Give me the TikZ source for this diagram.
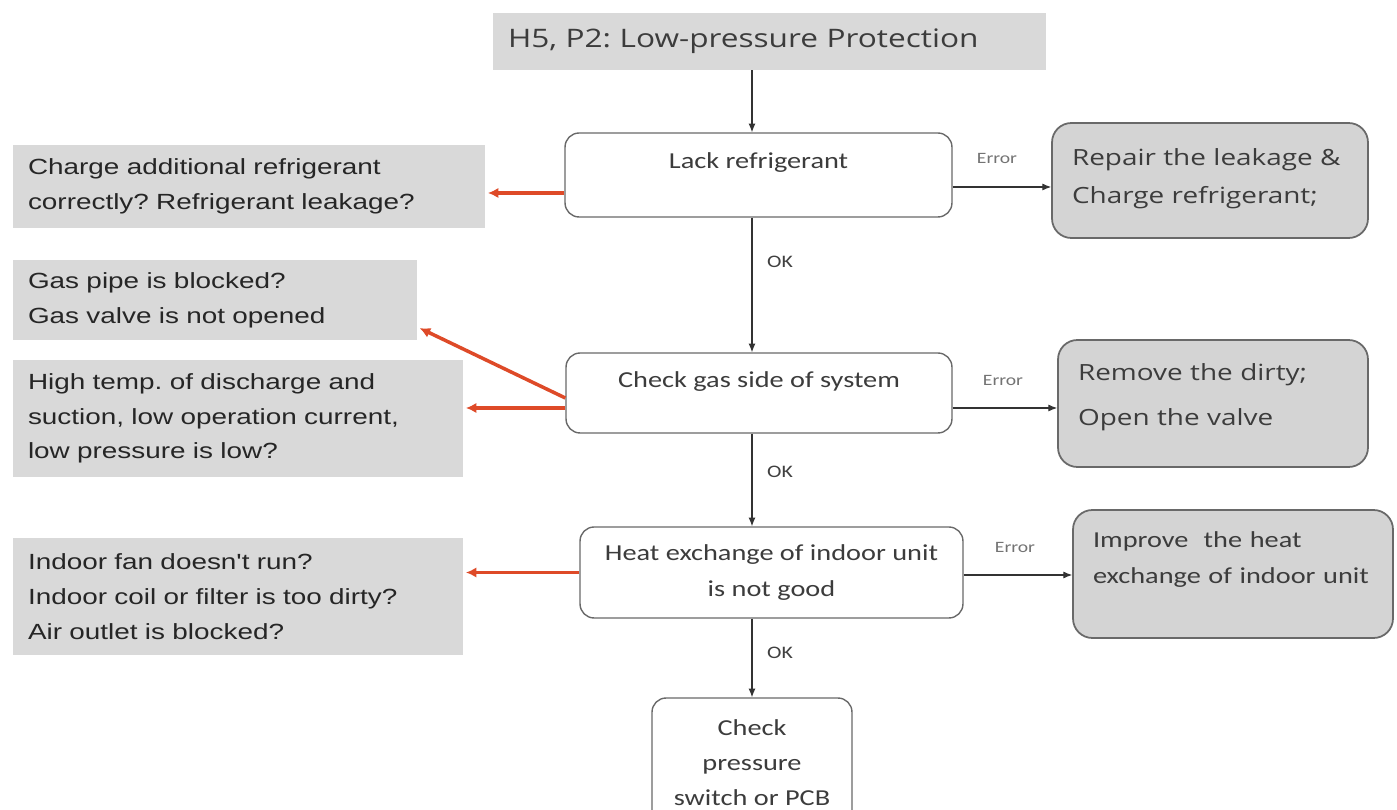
\documentclass[tikz,border=0pt]{standalone}
\usepackage{fontspec}
\setmainfont[FakeStretch=1.24]{Carlito}
\newfontfamily\titlefont[FakeStretch=1.24]{Open Sans}
\newfontfamily\fixfont[FakeStretch=1.25]{Open Sans}
\newfontfamily\arialfont[FakeStretch=1.27]{Liberation Sans}
\usetikzlibrary{arrows.meta, positioning, calc}
\definecolor{boxgray}{RGB}{217,217,217}
\definecolor{fixgray}{RGB}{212,212,212}
\definecolor{linegray}{RGB}{105,105,105}
\definecolor{txtgray}{RGB}{60,60,60}
\definecolor{redline}{RGB}{222,74,40}
\frenchspacing
\tikzset{
  titlebox/.style = {fill=boxgray, minimum width=11.06cm, minimum height=1.14cm, text width=10.46cm,
                     align=left, inner sep=0pt, font=\titlefont\fontsize{14.5}{18}\selectfont, text=txtgray},
  flow/.style     = {draw=linegray, line width=0.8pt, rounded corners=8pt, fill=white, align=center,
                     inner sep=0pt, font=\fontsize{13}{20}\selectfont, text=txtgray},
  flowtxt/.style  = {inner sep=0pt, font=\fontsize{13}{20}\selectfont, text=txtgray},
  fix/.style      = {draw=linegray, line width=1pt, rounded corners=11pt, fill=fixgray, inner sep=0pt},
  fixtxt/.style   = {align=left, inner sep=0pt, text=txtgray},
  cause/.style    = {fill=boxgray, align=left, inner sep=0pt, font=\arialfont\fontsize{12.5}{19.8}\selectfont,
                     text=black!85},
  arrow/.style    = {-{Latex[length=5pt,width=4pt]}, line width=0.6pt, color=black!80},
  redarrow/.style = {-{Latex[length=6pt,width=6pt]}, line width=2pt, color=redline, shorten >=1.5pt},
  oklbl/.style    = {inner sep=0pt, font=\fontsize{10}{12}\selectfont, text=black!75},
  errlbl/.style   = {inner sep=0pt, font=\fontsize{9}{11}\selectfont, text=black!55},
}
\begin{document}
\begin{tikzpicture}[x=0.02cm, y=-0.02cm]
  \clip (0,0) rectangle (1397,810);
  \fill[white] (0,0) rectangle (1397,810);
  % main chain
  \node[titlebox] (title) at (769.5,41.5) {H5, P2: Low-pressure Protection};
  \node[flow, minimum width=7.74cm, minimum height=1.68cm] (lack) at (758.5,175) {};
  \node[flowtxt] (lacktxt) at (758.5,163) {Lack refrigerant};
  \node[flow, minimum width=7.72cm, minimum height=1.6cm] (gas) at (759,393) {};
  \node[flowtxt] (gastxt) at (759,382) {Check gas side of system};
  \node[flow, minimum width=7.66cm, minimum height=1.82cm] (heat) at (771.5,572.5)
    {Heat exchange of indoor unit\\is not good};
  \node[flow, minimum width=4.0cm, minimum height=2.6cm] (pcb) at (752,763)
    {Check\\pressure\\switch or PCB};
  % remedies
  \node[fix, minimum width=6.32cm, minimum height=2.3cm] (repair) at (1210,180.5) {};
  \node[fixtxt, text width=5.52cm, font=\fixfont\fontsize{12.7}{21.5}\selectfont] (repairtxt) at (1210,179)
    {Repair the leakage \&\\Charge refrigerant;};
  \node[fix, minimum width=6.2cm, minimum height=2.54cm] (remove) at (1213,403.5) {};
  \node[fixtxt, text width=5.4cm, font=\fixfont\fontsize{12.7}{25.5}\selectfont] (removetxt) at (1213,397.5)
    {Remove the dirty;\\Open the valve};
  \node[fix, minimum width=6.4cm, minimum height=2.56cm] (improve) at (1233,574) {};
  \node[fixtxt, text width=5.6cm, font=\fontsize{13}{20}\selectfont] (improvetxt) at (1233,559.5)
    {Improve\ \ the heat\\exchange of indoor unit};
  % causes
  \node[cause, minimum width=9.44cm, minimum height=1.66cm, text width=8.84cm] (causeone) at (249,186.5)
    {Charge additional refrigerant\\correctly? Refrigerant leakage?};
  \node[cause, minimum width=8.08cm, minimum height=1.6cm, text width=7.48cm] (causetwo) at (215,300)
    {Gas pipe is blocked?\\Gas valve\ is not opened};
  \node[cause, minimum width=9.0cm, minimum height=2.34cm, text width=8.4cm] (causethree) at (238,418.5)
    {High temp. of discharge and\\suction, low operation current,\\low pressure is low?};
  \node[cause, minimum width=9.0cm, minimum height=2.34cm, text width=8.4cm] (causefour) at (238,596.5)
    {Indoor fan doesn't run?\\Indoor coil or filter is too dirty?\\Air outlet is blocked?};
  % OK path
  \draw[arrow] (title.south -| pcb.north) -- (lack.north -| pcb.north);
  \draw[arrow] (lack.south -| pcb.north) -- (gas.north -| pcb.north);
  \draw[arrow] (gas.south -| pcb.north) -- (heat.north -| pcb.north);
  \draw[arrow] (heat.south -| pcb.north) -- (pcb.north);
  \node[oklbl] (okone) at (780,262) {OK};
  \node[oklbl] (oktwo) at (780,472) {OK};
  \node[oklbl] (okthree) at (780,653) {OK};
  % Error path
  \draw[arrow] ([yshift=-0.24cm]lack.east) -- ([yshift=-0.24cm]lack.east -| repair.west);
  \draw[arrow] ([yshift=-0.3cm]gas.east) -- ([yshift=-0.3cm]gas.east -| remove.west);
  \draw[arrow] ([yshift=-0.05cm]heat.east) -- ([yshift=-0.05cm]heat.east -| improve.west);
  \node[errlbl] (errone) at (997,158) {Error};
  \node[errlbl] (errtwo) at (1003,380) {Error};
  \node[errlbl] (errthree) at (1015,547) {Error};
  % causes (red)
  \draw[redarrow] ([yshift=-0.36cm]lack.west) -- ([yshift=-0.36cm]lack.west -| causeone.east);
  \draw[redarrow] ([yshift=-0.1cm]gas.west) -- ([yshift=-0.54cm]causetwo.east);
  \draw[redarrow] ([yshift=-0.3cm]gas.west) -- ([yshift=-0.3cm]gas.west -| causethree.east);
  \draw[redarrow] (heat.west) -- (heat.west -| causefour.east);
\end{tikzpicture}
\end{document}
